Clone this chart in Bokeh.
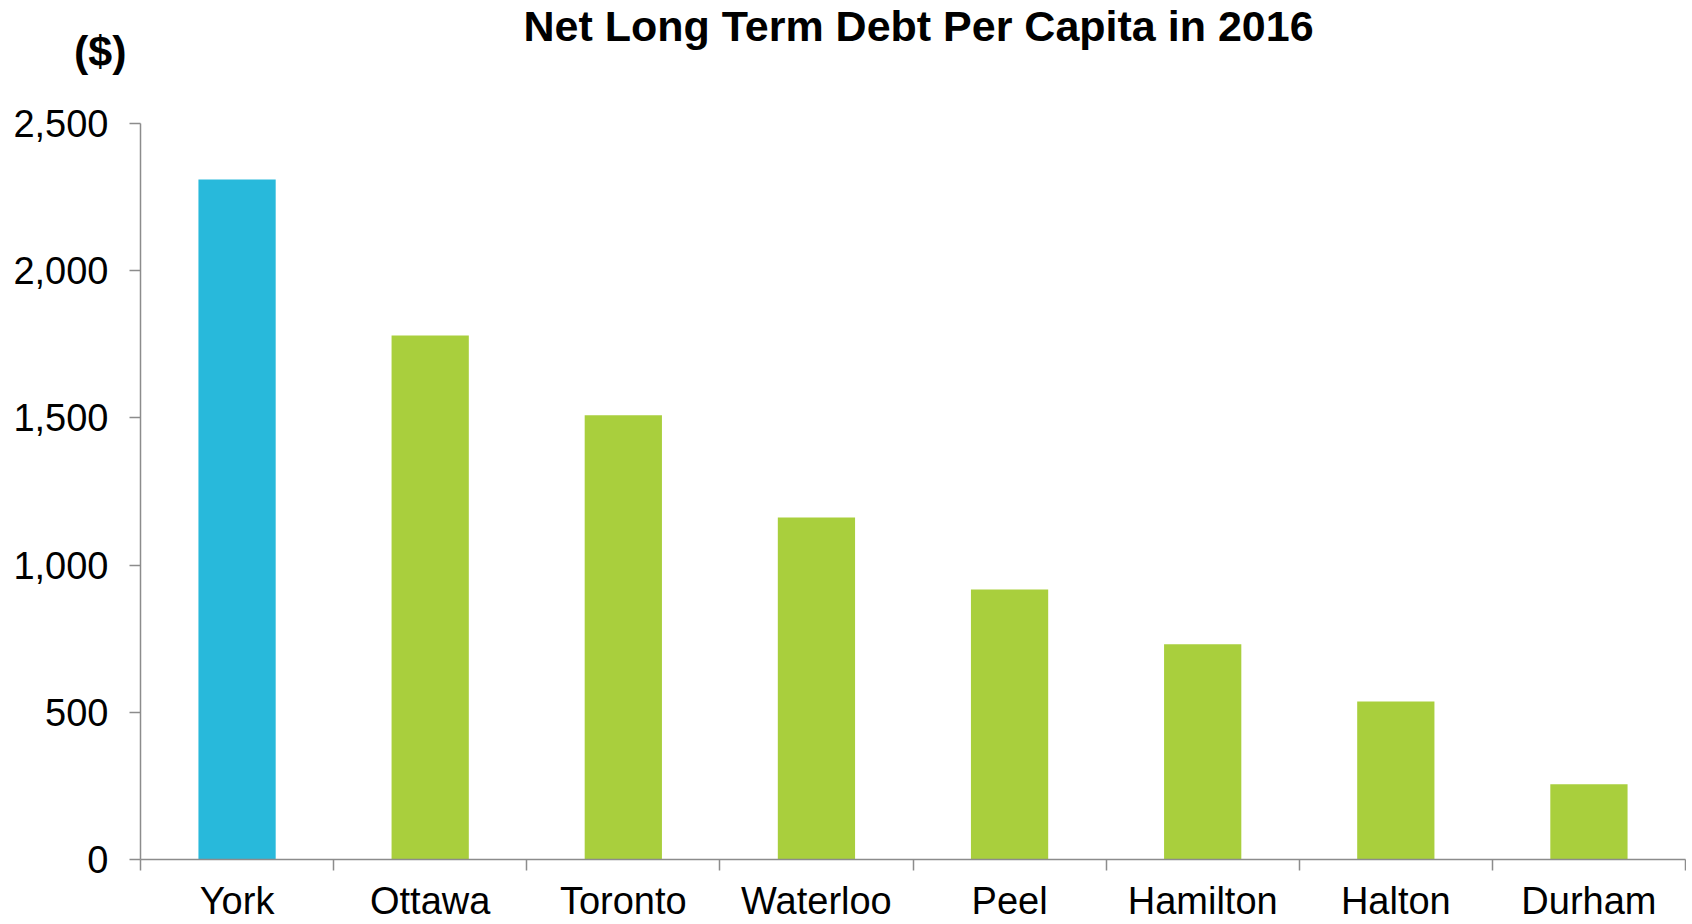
from bokeh.plotting import figure
from bokeh.layouts import column
from bokeh.models import FixedTicker, NumeralTickFormatter, Range1d, ColumnDataSource
from bokeh.core.properties import value
from bokeh.embed import file_html
from bokeh.resources import INLINE

regions = ["York", "Ottawa", "Toronto", "Waterloo", "Peel", "Hamilton", "Halton", "Durham"]
debt_per_capita = [2310, 1780, 1509, 1162, 917, 731, 537, 256]
bar_colors = ["#28B9DB", "#A9CF3D", "#A9CF3D", "#A9CF3D", "#A9CF3D", "#A9CF3D", "#A9CF3D", "#A9CF3D"]
y_ticks = [0, 500, 1000, 1500, 2000, 2500]
title_text = "Net Long Term Debt Per Capita in 2016"
unit_text = "($)"

n = len(regions)
centers = [i + 0.5 for i in range(n)]
bounds = list(range(n + 1))

FONT = "Liberation Sans"
AXIS_GREY = "#8C8C8C"
W = 1686
LEFT = 140
RIGHT = 1
TOP_H = 100

# header strip: title as text, unit as the strip's (invisible) y-axis label
hdr = figure(width=W, height=TOP_H, output_backend="svg", toolbar_location=None,
             x_range=Range1d(LEFT, W - RIGHT), y_range=Range1d(TOP_H, 0),
             min_border_left=LEFT, min_border_right=RIGHT, min_border_top=0, min_border_bottom=0,
             x_axis_type=None)
hdr.outline_line_color = None
hdr.xgrid.visible = False
hdr.ygrid.visible = False
hy = hdr.yaxis[0]
hy.ticker = FixedTicker(ticks=[], minor_ticks=[])
hy.axis_line_color = None
hy.major_tick_line_color = None
hy.minor_tick_line_color = None
hy.major_tick_out = 0
hy.major_tick_in = 0
hy.axis_label = unit_text
hy.axis_label_orientation = "horizontal"
hy.axis_label_standoff = 14
hy.axis_label_text_font = FONT
hy.axis_label_text_font_style = "bold"
hy.axis_label_text_font_size = "43px"
hy.axis_label_text_color = "black"
hdr.text(x=[918], y=[25], text=[title_text], text_font=value(FONT), text_font_style="bold",
         text_font_size="43px", text_align="center", text_baseline="middle", text_color="black")

p = figure(width=W, height=924 - TOP_H, output_backend="svg", toolbar_location=None,
           x_range=Range1d(0, n), y_range=Range1d(0, 2500),
           min_border_left=LEFT, min_border_right=RIGHT, min_border_top=123 - TOP_H,
           min_border_bottom=0)
p.outline_line_color = None
p.xgrid.visible = False
p.ygrid.visible = False

src = ColumnDataSource(dict(x=centers, top=debt_per_capita, color=bar_colors, name=regions))
p.vbar(x="x", top="top", bottom=0, width=0.4, color="color", source=src, line_color=None)

ya = p.yaxis[0]
ya.ticker = FixedTicker(ticks=y_ticks, minor_ticks=[])
ya.formatter = NumeralTickFormatter(format="0,0")
ya.axis_line_color = AXIS_GREY
ya.axis_line_width = 1.5
ya.major_tick_line_color = AXIS_GREY
ya.major_tick_line_width = 1.5
ya.major_tick_out = 11
ya.major_tick_in = 0
ya.minor_tick_line_color = None
ya.major_label_standoff = 21
ya.major_label_text_font = FONT
ya.major_label_text_font_size = "38px"
ya.major_label_text_color = "black"

xa = p.xaxis[0]
xa.ticker = FixedTicker(ticks=centers, minor_ticks=bounds)
overrides = {}
for c, r in zip(centers, regions):
    overrides[c] = r
    overrides[str(c)] = r
xa.major_label_overrides = overrides
xa.axis_line_color = AXIS_GREY
xa.axis_line_width = 1.5
xa.major_tick_line_color = None
xa.major_tick_out = 0
xa.major_tick_in = 0
xa.minor_tick_line_color = AXIS_GREY
xa.minor_tick_line_width = 1.5
xa.minor_tick_out = 11
xa.minor_tick_in = 0
xa.major_label_standoff = 9
xa.major_label_text_font = FONT
xa.major_label_text_font_size = "38px"
xa.major_label_text_color = "black"

layout = column(hdr, p, spacing=0)
open("out.html", "w").write(file_html(layout, INLINE))
